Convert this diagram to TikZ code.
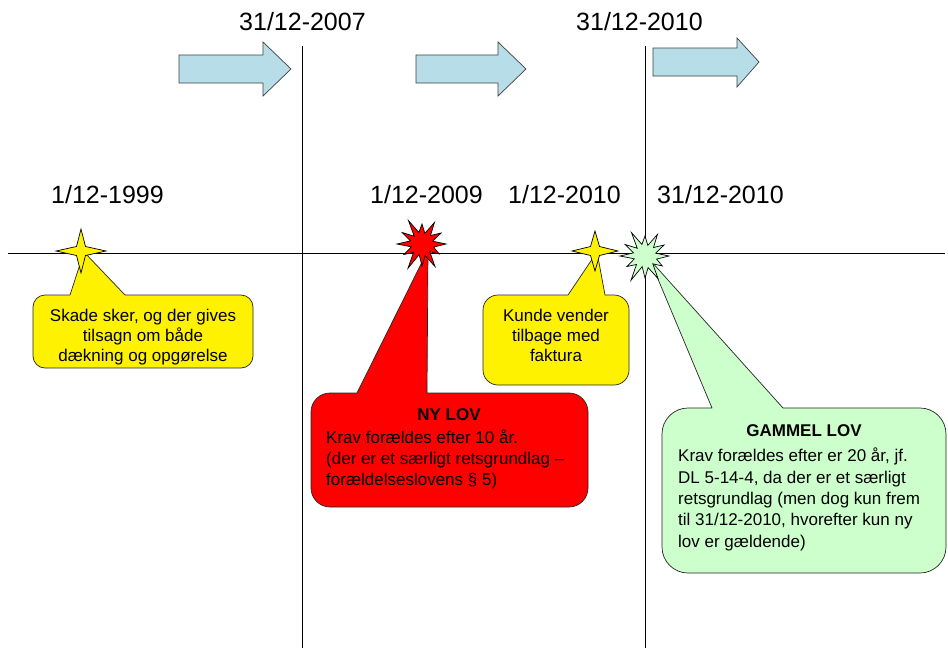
\documentclass[tikz,border=0pt]{standalone}
\usepackage{fontspec}
\setmainfont{Liberation Sans}
\usetikzlibrary{calc}
\definecolor{arrowblue}{RGB}{183,222,232}
\definecolor{paleg}{RGB}{204,255,204}
\newcommand\calloutshape[9]{%
  \draw[callbox,fill=#1] (#2,{(#3+#5)/2}) [rounded corners=#9] -- (#2,#3) [sharp corners] -- (#6,#3) -- (#8) -- (#7,#3) [rounded corners=#9] -- (#4,#3) -- (#4,#5) -- (#2,#5) -- cycle;}
\newcommand\fourstar[4]{% center, fill, half width, half height
  \draw[starline,fill=#2] ($(#1)+(#3,0)$) -- ($(#1)+(4.5,4.5)$) -- ($(#1)+(0,#4)$) -- ($(#1)+(-4.5,4.5)$) -- ($(#1)+(-#3,0)$) -- ($(#1)+(-4.5,-4.5)$) -- ($(#1)+(0,-#4)$) -- ($(#1)+(4.5,-4.5)$) -- cycle;}
\newcommand\burst[2]{%
  \begin{scope}[shift={(#1)}]
  \draw[starline,fill=#2] (0:24) \foreach \a/\r in {15/12,30/20,45/11,60/26,75/12,90/22,105/11,120/28,135/12,150/21,165/11,180/25,195/12,210/23,225/11,240/27,255/12,270/20,285/11,300/25,315/12,330/22,345/11} { -- (\a:\r) } -- cycle;
  \end{scope}}
\tikzset{
  callbox/.style={draw=black!85,line width=0.7pt,line join=round},
  starline/.style={draw=black,line width=0.7pt,line join=miter},
  blockarrow/.style={draw=black!75,line width=0.7pt,fill=arrowblue},
  datelbl/.style={anchor=base west,inner sep=0pt,font=\fontsize{25}{30}\selectfont},
  boxtxt/.style={anchor=north,inner sep=0pt,align=center,font=\fontsize{17}{20}\selectfont},
  bodytxt/.style={anchor=north west,inner sep=0pt,align=left,font=\fontsize{17}{21.3}\selectfont},
  titletxt/.style={anchor=base,inner sep=0pt,font=\fontsize{17}{20}\selectfont\bfseries},
  axis/.style={draw=black,line width=0.8pt}
}
\begin{document}
\begin{tikzpicture}[x=1pt,y=-1pt]
\fill[white] (0,0) rectangle (948,648);
\useasboundingbox (0,0) rectangle (948,648);
% axes
\coordinate (hl) at (8,253);
\coordinate (hr) at (945,253);
\coordinate (v1t) at (302,46);
\coordinate (v1b) at (302,648);
\coordinate (v2t) at (645,46);
\coordinate (v2b) at (645,648);
\draw[axis] (hl) -- (hr);
\draw[axis] (v1t) -- (v1b);
\draw[axis] (v2t) -- (v2b);
% block arrows
\draw[blockarrow] (179,55) -- (263,55) -- (263,42) -- (291,69) -- (263,96) -- (263,83) -- (179,83) -- cycle;
\draw[blockarrow] (416,55) -- (498,55) -- (498,42) -- (526,69) -- (498,96) -- (498,83) -- (416,83) -- cycle;
\draw[blockarrow] (653,48) -- (737,48) -- (737,38) -- (759,62) -- (737,87) -- (737,76) -- (653,76) -- cycle;
% date labels
\node[datelbl] (d1) at (239,30) {31/12-2007};
\node[datelbl] (d2) at (576,30) {31/12-2010};
\node[datelbl] (d3) at (51,203) {1/12-1999};
\node[datelbl] (d4) at (370,203) {1/12-2009};
\node[datelbl] (d5) at (508,203) {1/12-2010};
\node[datelbl] (d6) at (657,203) {31/12-2010};
% event points
\coordinate (s1) at (81,251);
\coordinate (s2) at (422,244);
\coordinate (s3) at (595,251);
\coordinate (s4) at (645,256);
\coordinate (a1) at (84,252);
\coordinate (a2) at (428,250);
\coordinate (a3) at (597,252);
\coordinate (a4) at (650,260);
% callouts
\calloutshape{yellow}{33}{295}{253}{368}{70}{125}{a1}{12pt}
\calloutshape{yellow}{483}{295}{629}{385}{568}{605}{a3}{15pt}
\calloutshape{red}{311}{393}{588}{507}{357}{427}{a2}{19pt}
\calloutshape{paleg}{662}{408}{946}{573}{712}{783}{a4}{26pt}
% stars
\fourstar{s1}{yellow}{25}{22}
\fourstar{s3}{yellow}{23}{20}
\burst{s2}{red}
\burst{s4}{paleg}
% texts
\node[boxtxt] (t1) at (143,307.7) {\strut Skade sker, og der gives\\\strut tilsagn om både\\\strut dækning og opgørelse};
\node[boxtxt] (t2) at (556,307.7) {\strut Kunde vender\\\strut tilbage med\\\strut faktura};
\node[titletxt] (t3) at (449,420.7) {NY LOV};
\node[bodytxt] (t4) at (326,428) {\strut Krav forældes efter 10 år.\\\strut (der er et særligt retsgrundlag –\\\strut forældelseslovens § 5)};
\node[titletxt] (t5) at (804,436.7) {GAMMEL LOV};
\node[bodytxt] (t6) at (678,446.8) {\strut Krav forældes efter er 20 år, jf.\\\strut DL 5-14-4, da der er et særligt\\\strut retsgrundlag (men dog kun frem\\\strut til 31/12-2010, hvorefter kun ny\\\strut lov er gældende)};
\end{tikzpicture}
\end{document}
